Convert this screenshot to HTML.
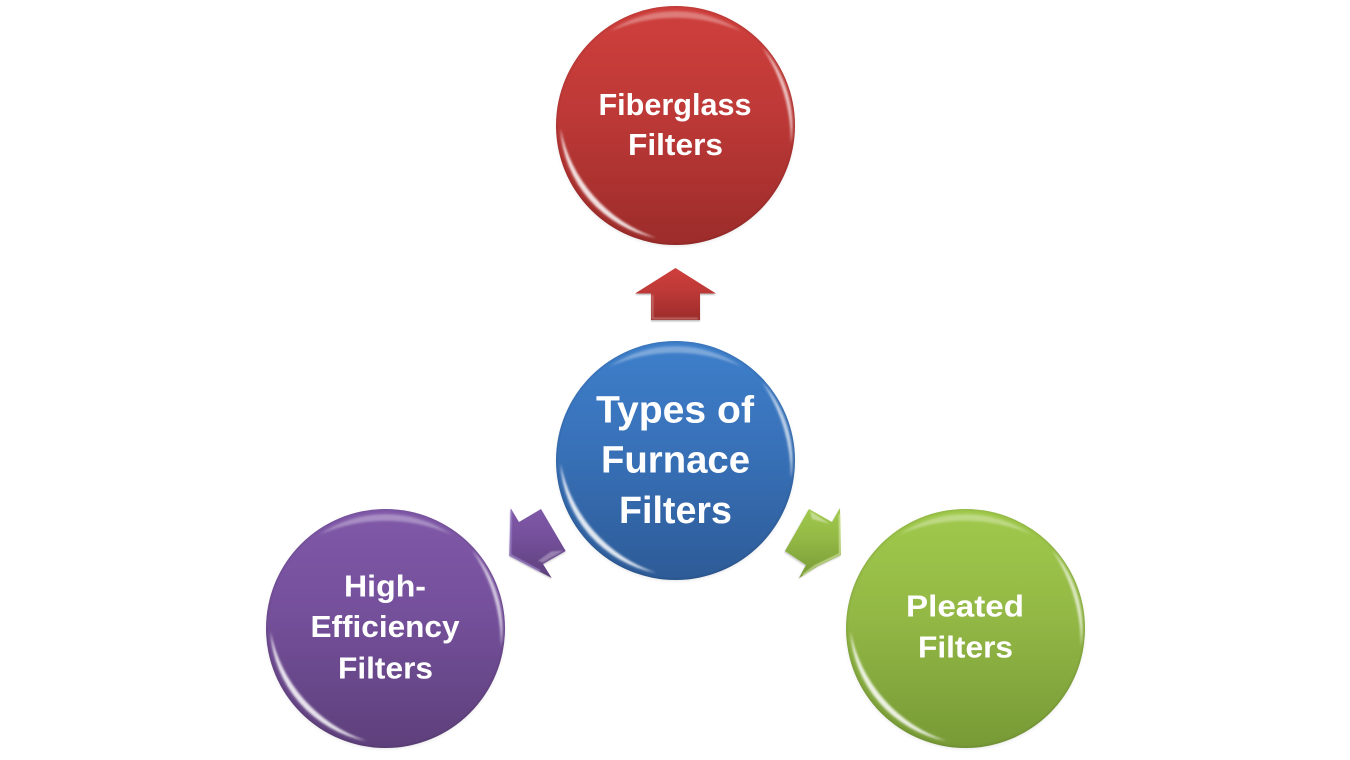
<!DOCTYPE html>
<html>
<head>
<meta charset="utf-8">
<style>
html,body{margin:0;padding:0;background:#fff;width:1350px;height:760px;overflow:hidden}
svg{display:block}
text{font-family:"Liberation Sans",sans-serif;font-weight:700;fill:#fff;text-anchor:middle}
</style>
</head>
<body>
<svg width="1350" height="760" viewBox="0 0 1350 760" xmlns="http://www.w3.org/2000/svg">
<defs>
<linearGradient id="r" x1="0" y1="0" x2="0" y2="1"><stop offset="0" stop-color="#cf3f3c"/><stop offset=".45" stop-color="#bd3937"/><stop offset="1" stop-color="#9c2c2a"/></linearGradient>
<linearGradient id="b" x1="0" y1="0" x2="0" y2="1"><stop offset="0" stop-color="#3e7fcb"/><stop offset=".45" stop-color="#3871b8"/><stop offset="1" stop-color="#2d5b97"/></linearGradient>
<linearGradient id="p" x1="0" y1="0" x2="0" y2="1"><stop offset="0" stop-color="#8059a9"/><stop offset=".45" stop-color="#744f9a"/><stop offset="1" stop-color="#5e407b"/></linearGradient>
<linearGradient id="g" x1="0" y1="0" x2="0" y2="1"><stop offset="0" stop-color="#a0c94b"/><stop offset=".45" stop-color="#93b845"/><stop offset="1" stop-color="#779a36"/></linearGradient>
<filter id="bl" x="-20%" y="-20%" width="140%" height="140%"><feGaussianBlur stdDeviation="1.100"/></filter>
<filter id="bs" x="-20%" y="-20%" width="140%" height="140%"><feGaussianBlur stdDeviation="2.500"/></filter>
<filter id="s1" x="-30%" y="-30%" width="160%" height="160%"><feGaussianBlur stdDeviation=".8"/></filter>
<clipPath id="cc"><circle cx="0" cy="0" r="119.500"/></clipPath>
<g id="rim">
<g clip-path="url(#cc)">
<circle r="119.500" fill="none" stroke="#000" stroke-width="2" stroke-opacity=".12" filter="url(#bl)"/>
<path d="M-118,6 A118,118 0 0 0 -22,115.500 A145,145 0 0 1 -118,6 Z" fill="#fff" fill-opacity=".85" filter="url(#bl)" transform="translate(3,-3)"/>
<path d="M-66,-96 A117,117 0 0 1 66,-96 A165,165 0 0 0 -66,-96 Z" fill="#fff" fill-opacity=".32" filter="url(#bl)" transform="translate(0,2)"/>
<path d="M88,-79 A118,118 0 0 1 117,18 A170,170 0 0 0 88,-79 Z" fill="#fff" fill-opacity=".7" filter="url(#bl)" transform="translate(-1.500,0.500)"/>
</g>
</g>
</defs>

<!-- top -->
<circle cx="675.500" cy="127" r="118" fill="#000" opacity=".14" filter="url(#bs)"/>
<circle cx="675.500" cy="125.500" r="119.500" fill="url(#r)"/>
<use href="#rim" x="675.500" y="125.500"/>
<text x="675" y="115" font-size="31" textLength="153" lengthAdjust="spacingAndGlyphs">Fiberglass</text>
<text x="675.500" y="155" font-size="31" textLength="95" lengthAdjust="spacingAndGlyphs">Filters</text>

<!-- centre -->
<circle cx="675.500" cy="462" r="118" fill="#000" opacity=".14" filter="url(#bs)"/>
<circle cx="675.500" cy="460.500" r="119.500" fill="url(#b)"/>
<use href="#rim" x="675.500" y="460.500"/>
<text x="675" y="422.500" font-size="38" textLength="158" lengthAdjust="spacingAndGlyphs">Types of</text>
<text x="675.500" y="472.500" font-size="38" textLength="149" lengthAdjust="spacingAndGlyphs">Furnace</text>
<text x="675.500" y="523" font-size="38" textLength="113" lengthAdjust="spacingAndGlyphs">Filters</text>

<!-- left -->
<circle cx="385.500" cy="630" r="118" fill="#000" opacity=".14" filter="url(#bs)"/>
<circle cx="385.500" cy="628.500" r="119.500" fill="url(#p)"/>
<use href="#rim" x="385.500" y="628.500"/>
<text x="385" y="596.500" font-size="31" textLength="82" lengthAdjust="spacingAndGlyphs">High-</text>
<text x="385" y="637" font-size="31" textLength="149" lengthAdjust="spacingAndGlyphs">Efficiency</text>
<text x="385.500" y="678.500" font-size="31" textLength="95" lengthAdjust="spacingAndGlyphs">Filters</text>

<!-- right -->
<circle cx="965.500" cy="630" r="118" fill="#000" opacity=".14" filter="url(#bs)"/>
<circle cx="965.500" cy="628.500" r="119.500" fill="url(#g)"/>
<use href="#rim" x="965.500" y="628.500"/>
<text x="965" y="616.500" font-size="31" textLength="118" lengthAdjust="spacingAndGlyphs">Pleated</text>
<text x="965.500" y="657.500" font-size="31" textLength="95" lengthAdjust="spacingAndGlyphs">Filters</text>

<!-- up arrow -->
<path d="M675.500,268 L716,293.500 L700,293.500 L700,320 L651,320 L651,293.500 L635,293.500 Z" fill="#000" opacity=".25" filter="url(#s1)" transform="translate(0,1.500)"/>
<path d="M675.500,268 L716,293.500 L700,293.500 L700,320 L651,320 L651,293.500 L635,293.500 Z" fill="url(#r)"/>
<path d="M652.500,295 L652.500,318.500 L698,318.500" stroke="#fff" stroke-opacity=".35" stroke-width="1.500" fill="none" filter="url(#s1)"/>

<!-- purple arrow -->
<path d="M510.700,508.300 L519,522 L541,509 L565.700,551 L543,564 L551.700,578 L509.300,555.700 Z" fill="#000" opacity=".18" filter="url(#s1)" transform="translate(0,1.500)"/>
<path d="M510.700,508.300 L519,522 L541,509 L565.700,551 L543,564 L551.700,578 L509.300,555.700 Z" fill="url(#p)"/>
<path d="M511,511 L510.300,555 L540,571" stroke="#a993d6" stroke-width="1.300" fill="none" filter="url(#s1)"/>
<path d="M563.500,550.500 L551,551.500 L538,561 L543,562.500 Z" fill="#fff" opacity=".3" filter="url(#s1)"/>

<!-- green arrow -->
<path d="M809,509 L832,522 L840,508 L841,555 L818,566 L799,578 L806,565 L785,551 Z" fill="#000" opacity=".18" filter="url(#s1)" transform="translate(-1,1.500)"/>
<path d="M809,509 L832,522 L840,508 L841,555 L818,566 L799,578 L806,565 L785,551 Z" fill="url(#g)"/>
<path d="M810,511 L830,524 L812,519 Z" fill="#fff" opacity=".4" filter="url(#s1)"/>
<path d="M839.500,514 L840,554 L815,566 L803,575" stroke="#dcebb0" stroke-width="1.300" fill="none" filter="url(#s1)"/>
</svg>
</body>
</html>
